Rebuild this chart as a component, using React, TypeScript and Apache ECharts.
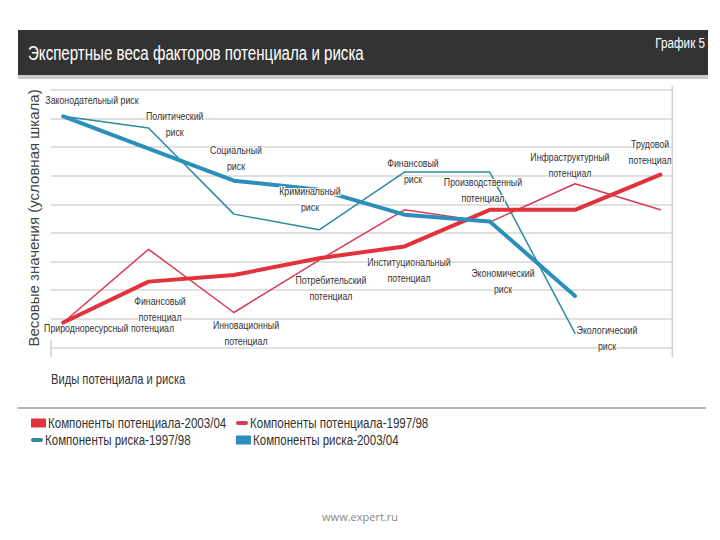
import React, { useEffect, useRef } from "react";
import * as echarts from "echarts";

// ---- data (weights in a conventional scale) ----
const potential2003 = [0.87, 2.3, 2.53, 3.12, 3.53, 4.81, 4.81, 6.04];
const potential1997 = [0.87, 3.43, 1.22, 3.05, 4.81, 4.38, 5.72, 4.81];
const risk1997 = [8.08, 7.67, 4.66, 4.11, 6.13, 6.13, 0.49];
const risk2003 = [8.08, 6.95, 5.83, 5.51, 4.64, 4.4, 1.8];

const seriesNames = [
  "Компоненты потенциала-2003/04",
  "Компоненты потенциала-1997/98",
  "Компоненты риска-1997/98",
  "Компоненты риска-2003/04",
];

const pointLabels = [
  "Законодательный риск",
  "Политический\nриск",
  "Социальный\nриск",
  "Криминальный\nриск",
  "Финансовый\nриск",
  "Производственный\nпотенциал",
  "Инфраструктурный\nпотенциал",
  "Трудовой\nпотенциал",
  "Экономический\nриск",
  "Экологический\nриск",
  "Природноресурсный потенциал",
  "Финансовый\nпотенциал",
  "Инновационный\nпотенциал",
  "Потребительский\nпотенциал",
  "Институциональный\nпотенциал",
];

// label anchors in data coordinates (layout, not data)
const labelAnchors: [number, number][] = [
  [0.336, 8.66],
  [1.306, 7.79],
  [2.025, 6.63],
  [2.892, 5.17],
  [4.1, 6.16],
  [4.92, 5.51],
  [5.94, 6.39],
  [6.88, 6.82],
  [5.155, 2.31],
  [6.374, 0.32],
  [0.537, 0.69],
  [1.134, 1.35],
  [2.142, 0.49],
  [3.138, 2.07],
  [4.053, 2.71],
];

const title = "Экспертные веса факторов потенциала и риска";
const chartNo = "График 5";
const yTitle = "Весовые значения (условная шкала)";
const xTitle = "Виды потенциала и риска";
const footer = "www.expert.ru";

const SANS = '"Liberation Sans", Arial, sans-serif';
const colors = ["#e2323c", "#d63b55", "#2a8d9e", "#2b8fba"];
const widths = [4, 1.5, 1.5, 4];

const toPairs = (arr: number[]) => arr.map((v, i) => [i, v]);

const narrowText = (
  text: string,
  x: number,
  y: number,
  size: number,
  fill: string,
  align = "left",
  scale = 0.8,
  extra: any = {}
) => ({
  type: "text",
  x,
  y,
  scaleX: scale,
  z: 10,
  style: { text, fill, font: `${size}px ${SANS}`, align, verticalAlign: "middle", ...extra },
});

export default function App() {
  const ref = useRef<HTMLDivElement>(null);
  useEffect(() => {
    if (!ref.current) return;
    const chart = echarts.init(ref.current, null, { renderer: "svg" });
    const dataSets = [potential2003, potential1997, risk1997, risk2003];
    const order = [1, 2, 0, 3];
    const lineSeries = order.map((k) => ({
      name: seriesNames[k],
      type: "line",
      data: toPairs(dataSets[k]),
      symbol: "none",
      smooth: false,
      lineStyle: { color: colors[k], width: widths[k], join: "round", cap: "round" },
      itemStyle: { color: colors[k] },
      z: widths[k] > 2 ? 3 : 2,
    }));

    // legend (drawn manually: icon + condensed text)
    const legendRows = [
      { x: 31, y: 423, k: 0 },
      { x: 236, y: 423, k: 1 },
      { x: 31, y: 440, k: 2 },
      { x: 236, y: 440, k: 3 },
    ];
    const legendGraphics: any[] = [];
    legendRows.forEach((r) => {
      const thick = widths[r.k] > 2;
      const w = thick ? 15 : 12;
      const h = thick ? 9 : 4;
      legendGraphics.push({
        type: "rect",
        shape: { x: r.x, y: r.y - h / 2, width: w, height: h, r: thick ? 0 : 2 },
        style: { fill: colors[r.k] },
      });
      legendGraphics.push(narrowText(seriesNames[r.k], r.x + (thick ? 17 : 14), r.y, 15, "#333", "left", 0.77));
    });

    const baseGraphics: any[] = [
      { type: "rect", shape: { x: 18, y: 30, width: 690, height: 45 }, style: { fill: "#333333" } },
      { type: "rect", shape: { x: 18, y: 75, width: 690, height: 4 }, style: { fill: "#c9c9c9" } },
      narrowText(title, 28, 53, 21, "#ffffff", "left", 0.72),
      narrowText(chartNo, 705, 43, 15, "#ffffff", "right", 0.78),
      {
        type: "text",
        x: 33,
        y: 218,
        rotation: Math.PI / 2,
        style: { text: yTitle, fill: "#444", font: `15px ${SANS}`, align: "center", verticalAlign: "middle" },
      },
      narrowText(xTitle, 51, 380, 14, "#333"),
      { type: "line", shape: { x1: 672.3, y1: 86, x2: 672.3, y2: 357 }, style: { stroke: "#d0d0d0", lineWidth: 1.5 } },
      { type: "line", shape: { x1: 51, y1: 340, x2: 51, y2: 357 }, style: { stroke: "#d0d0d0", lineWidth: 1.5 } },
      { type: "line", shape: { x1: 18, y1: 408, x2: 706, y2: 408 }, style: { stroke: "#b5b5b5", lineWidth: 2 } },
      {
        type: "text",
        x: 360,
        y: 516,
        style: { text: footer, fill: "#8a8a8a", font: '11px "Open Sans", sans-serif', align: "center", verticalAlign: "middle" },
      },
      ...legendGraphics,
    ];

    chart.setOption({
      animation: false,
      backgroundColor: "#ffffff",
      grid: { left: 51, right: 47.7, top: 90, height: 257.4 },
      xAxis: { type: "value", min: -0.144, max: 7.14, show: false },
      yAxis: {
        type: "value",
        min: 0,
        max: 9,
        interval: 1,
        axisLabel: { show: false },
        axisLine: { show: false },
        axisTick: { show: false },
        splitLine: { lineStyle: { color: "#d6d6d6", width: 1.5 } },
      },
      series: lineSeries,
      graphic: baseGraphics,
    });

    // point labels placed through the chart's own coordinate system
    const labelGraphics = labelAnchors.map((a, i) => {
      const p = chart.convertToPixel({ gridIndex: 0 }, a) as number[];
      return narrowText(pointLabels[i], p[0], p[1], 11, "#333", "center", 0.8, {
        lineHeight: 16,
        stroke: "#ffffff",
        lineWidth: 2,
      });
    });
    chart.setOption({ graphic: [...baseGraphics, ...labelGraphics] });

    return () => chart.dispose();
  }, []);
  return (
    <div
      ref={ref}
      style={{ position: "absolute", left: 0, top: 0, width: 720, height: 540 }}
    />
  );
}
